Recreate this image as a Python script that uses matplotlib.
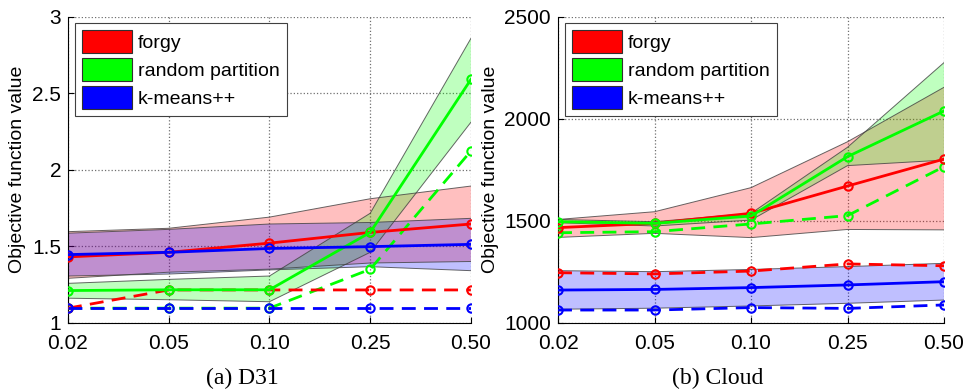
import numpy as np
import matplotlib
matplotlib.use("Agg")
import matplotlib.pyplot as plt
from matplotlib.patches import Patch

ratios = ["0.02", "0.05", "0.10", "0.25", "0.50"]
methods = ["forgy", "random partition", "k-means++"]
colors = ["#ff0000", "#00ff00", "#0000ff"]

# D31: mean, band low/high, best (dashed)
d31_mean = [[1.43, 1.46, 1.52, 1.59, 1.645],
            [1.21, 1.215, 1.215, 1.59, 2.59],
            [1.445, 1.46, 1.485, 1.497, 1.512]]
d31_low = [[1.29, 1.33, 1.35, 1.39, 1.40],
           [1.16, 1.15, 1.137, 1.46, 2.31],
           [1.305, 1.318, 1.345, 1.366, 1.34]]
d31_high = [[1.595, 1.617, 1.69, 1.81, 1.893],
            [1.257, 1.283, 1.305, 1.715, 2.858],
            [1.585, 1.61, 1.645, 1.655, 1.682]]
d31_best = [[1.095, 1.214, 1.214, 1.214, 1.214],
            [1.095, 1.095, 1.095, 1.349, 2.122],
            [1.095, 1.095, 1.095, 1.095, 1.095]]

# Cloud
cloud_mean = [[1466, 1487, 1536, 1670, 1802],
              [1495, 1487, 1523, 1814, 2038],
              [1160, 1163, 1172, 1185, 1201]]
cloud_low = [[1418, 1438, 1417, 1457, 1455],
             [1490, 1474, 1503, 1770, 1797],
             [1066, 1071, 1082, 1095, 1111]]
cloud_high = [[1506, 1544, 1662, 1887, 2154],
              [1506, 1495, 1536, 1860, 2275],
              [1255, 1250, 1261, 1275, 1291]]
cloud_best = [[1245, 1239, 1253, 1288, 1279],
              [1441, 1446, 1484, 1525, 1765],
              [1062, 1062, 1074, 1070, 1087]]

plt.rcParams['font.family'] = ['Liberation Sans', 'DejaVu Sans']

fig = plt.figure(figsize=(9.63, 3.9), dpi=100)
ax1 = fig.add_axes([0.0706, 0.1726, 0.4184, 0.7846])
ax2 = fig.add_axes([0.5795, 0.1726, 0.4008, 0.7846])


def draw(ax, mean, low, high, best, ylim, yticks, yticklabels):
    x = np.arange(len(ratios))
    for i in range(3):
        ax.fill_between(x, low[i], high[i], facecolor=colors[i], alpha=0.25,
                        edgecolor='none', zorder=1)
        ax.plot(x, low[i], color='#404040', lw=0.7, alpha=0.8, zorder=1.5)
        ax.plot(x, high[i], color='#404040', lw=0.7, alpha=0.8, zorder=1.5)
    for i in [1, 0, 2]:
        ax.plot(x, best[i], color=colors[i], lw=2, ls=(0, (5, 3)),
                marker='o', mfc='none', ms=6, mew=1.5, zorder=3)
    for i in range(3):
        ax.plot(x, mean[i], color=colors[i], lw=2, marker='o', mfc='none',
                ms=6, mew=1.5, zorder=4)
    ax.set_xlim(0, 4)
    ax.set_ylim(*ylim)
    ax.set_xticks(x)
    ax.set_xticklabels(ratios, fontsize=15)
    ax.set_yticks(yticks)
    ax.set_yticklabels(yticklabels, fontsize=15)
    ax.tick_params(direction='in', length=4)
    ax.tick_params(axis='x', pad=8)
    ax.tick_params(axis='y', pad=5)
    ax.grid(True, ls=':', color='#707070', lw=0.9)
    ax.set_axisbelow(True)
    for s in ['top', 'right']:
        ax.spines[s].set_visible(False)
    ax.set_ylabel("Objective function value", fontsize=14, labelpad=4)
    handles = [Patch(facecolor=c, edgecolor='#303030', lw=0.8) for c in colors]
    leg = ax.legend(handles, methods, loc='upper left', fontsize=14,
                    handlelength=2.6, handleheight=1.45, handletextpad=0.3,
                    labelspacing=0.25, borderpad=0.35, borderaxespad=0.35,
                    fancybox=False, framealpha=1)
    leg.get_frame().set_edgecolor('#404040')
    leg.get_frame().set_linewidth(0.8)


draw(ax1, d31_mean, d31_low, d31_high, d31_best, (1, 3),
     [1, 1.5, 2, 2.5, 3], ["1", "1.5", "2", "2.5", "3"])
draw(ax2, cloud_mean, cloud_low, cloud_high, cloud_best, (1000, 2500),
     [1000, 1500, 2000, 2500], ["1000", "1500", "2000", "2500"])

fig.text(0.252, 0.03, "(a) D31", ha='center', va='center', fontsize=17,
         family=['Liberation Serif', 'DejaVu Serif'])
fig.text(0.745, 0.03, "(b) Cloud", ha='center', va='center', fontsize=17,
         family=['Liberation Serif', 'DejaVu Serif'])

fig.savefig("out.png", dpi=100)
